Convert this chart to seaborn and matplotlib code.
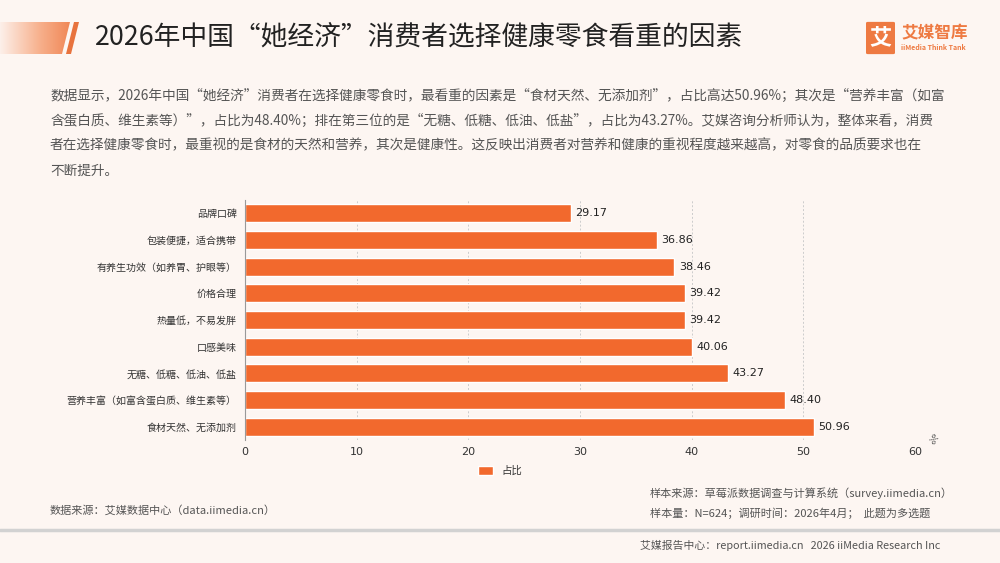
import numpy as np
import pandas as pd
import seaborn as sns
import matplotlib.pyplot as plt
from matplotlib.patches import Polygon, FancyBboxPatch
from matplotlib.colors import LinearSegmentedColormap

# 数据
factors = ["品牌口碑", "包装便捷，适合携带", "有养生功效（如养胃、护眼等）", "价格合理",
           "热量低，不易发胖", "口感美味", "无糖、低糖、低油、低盐",
           "营养丰富（如富含蛋白质、维生素等）", "食材天然、无添加剂"]
shares = [29.17, 36.86, 38.46, 39.42, 39.42, 40.06, 43.27, 48.40, 50.96]
x_ticks = [0, 10, 20, 30, 40, 50, 60]

title = "2026年中国“她经济”消费者选择健康零食看重的因素"
body_lines = [
    "数据显示，2026年中国“她经济”消费者在选择健康零食时，最看重的因素是“食材天然、无添加剂”，占比高达50.96%；其次是“营养丰富（如富",
    "含蛋白质、维生素等）”，占比为48.40%；排在第三位的是“无糖、低糖、低油、低盐”，占比为43.27%。艾媒咨询分析师认为，整体来看，消费",
    "者在选择健康零食时，最重视的是食材的天然和营养，其次是健康性。这反映出消费者对营养和健康的重视程度越来越高，对零食的品质要求也在",
    "不断提升。",
]

df = pd.DataFrame({"因素": factors, "占比": shares})

sns.set_theme(style="white")
plt.rcParams["font.family"] = ["Noto Sans CJK SC", "DejaVu Sans"]
plt.rcParams["axes.unicode_minus"] = False

BG = "#fdf6f2"
ORANGE = "#f2692d"

fig = plt.figure(figsize=(10, 5.63), dpi=100, facecolor=BG)

# 左上角渐变条
ax_bar = fig.add_axes([0, 1 - 54 / 563, 0.08, 32 / 563])
ax_bar.set_axis_off()
grad = np.linspace(0, 1, 256).reshape(1, -1)
cmap = LinearSegmentedColormap.from_list("g", ["#fdf0ea", "#f7b08c", "#ee7a45"])
im = ax_bar.imshow(grad, aspect="auto", cmap=cmap, extent=[0, 80, 0, 32])
ax_bar.set_xlim(0, 80)
ax_bar.set_ylim(0, 32)
clip = Polygon([[0, 0], [62, 0], [70, 32], [0, 32]], closed=True, transform=ax_bar.transData)
im.set_clip_path(clip)
ax_bar.add_patch(Polygon([[66, 0], [71, 0], [79, 32], [74, 32]], closed=True,
                         color="#e8733e", lw=0))

fig.text(0.095, 1 - 37 / 563, title, fontsize=19.3, color="#222222", va="center", ha="left")

# logo
logo = FancyBboxPatch((868 / 1000, 1 - 53 / 563), 25 / 1000, 30 / 563,
                      boxstyle="round,pad=0.002", transform=fig.transFigure,
                      color="#ee7a42", lw=0)
fig.patches.append(logo)
fig.text(880.5 / 1000, 1 - 38 / 563, "艾", fontsize=16, color="white",
         fontweight="bold", ha="center", va="center")
fig.text(901 / 1000, 1 - 33 / 563, "艾媒智库", fontsize=12, color="#ee7a42",
         fontweight="bold", ha="left", va="center")
fig.text(901 / 1000, 1 - 48 / 563, "iiMedia Think Tank", fontsize=5, color="#ee7a42",
         fontweight="bold", ha="left", va="center")

# 正文
for i, line in enumerate(body_lines):
    fig.text(50 / 1000, 1 - (96 + i * 24.8) / 563, line, fontsize=9.85,
             color="#555555", ha="left", va="center")

# 主图
ax = fig.add_axes([0.245, 1 - 440 / 563, 0.67, 240 / 563])
ax.set_facecolor("none")
sns.barplot(data=df, x="占比", y="因素", orient="h", color=ORANGE, width=0.68,
            saturation=1, label="占比", ax=ax)
ax.set_xlim(0, 60)
ax.set_ylim(len(factors) - 0.5, -0.5)
ax.set_xticks(x_ticks)
ax.set_xticklabels([str(t) for t in x_ticks], fontsize=8, color="#333333",
                   family="DejaVu Sans")
ax.tick_params(axis="y", labelsize=7.2, labelcolor="#333333", length=0, pad=6)
ax.tick_params(axis="x", length=0, pad=5)
ax.set_xlabel("")
ax.set_ylabel("")
for s in ["top", "right", "bottom"]:
    ax.spines[s].set_visible(False)
ax.spines["left"].set_color("#999999")
ax.spines["left"].set_linewidth(0.8)
ax.xaxis.grid(True, linestyle=(0, (2, 2)), color="#cccccc", linewidth=0.7)
ax.set_axisbelow(True)

for i, v in enumerate(shares):
    ax.text(v + 0.4, i, f"{v:.2f}", fontsize=8, color="#222222", va="center",
            ha="left", family="DejaVu Sans")

ax.text(61.5, len(factors) - 0.5, "%", fontsize=7, color="#555555", rotation=-50,
        ha="center", va="center", family="DejaVu Sans")

fig.legend(*ax.get_legend_handles_labels(), loc="center", bbox_to_anchor=(0.5, 1 - 471 / 563),
           frameon=False, fontsize=7.5, handlelength=1.5, handleheight=0.9,
           labelcolor="#333333")
leg = ax.get_legend()
if leg is not None:
    leg.remove()

# 底部说明
fig.text(50 / 1000, 1 - 510 / 563, "数据来源：艾媒数据中心（data.iimedia.cn）", fontsize=8,
         color="#555555", va="center")
fig.text(650 / 1000, 1 - 493 / 563, "样本来源：草莓派数据调查与计算系统（survey.iimedia.cn）",
         fontsize=8, color="#555555", va="center")
fig.text(650 / 1000, 1 - 513 / 563, "样本量：N=624；调研时间：2026年4月；  此题为多选题",
         fontsize=8, color="#555555", va="center")
fig.add_artist(plt.Line2D([0, 1], [1 - 530 / 563] * 2, color="#d2d2d2", lw=2.5,
                          transform=fig.transFigure))
fig.text(640 / 1000, 1 - 545 / 563, "艾媒报告中心：report.iimedia.cn   2026 iiMedia Research Inc",
         fontsize=7.8, color="#555555", va="center")

fig.savefig("out.png", dpi=100, facecolor=BG)
